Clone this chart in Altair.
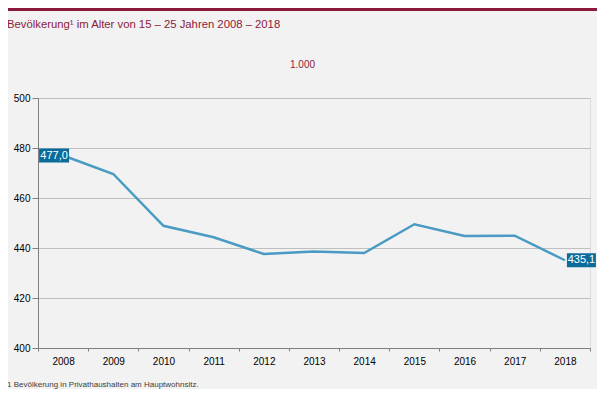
import altair as alt
import pandas as pd

years = ["2008", "2009", "2010", "2011", "2012", "2013", "2014", "2015", "2016", "2017", "2018"]
values = [477.0, 469.6, 448.9, 444.3, 437.6, 438.6, 438.0, 449.5, 444.8, 444.9, 435.1]

label_years = ["2008", "2018"]
label_values = [477.0, 435.1]
label_texts = ["477,0", "435,1"]

y_ticks = [400, 420, 440, 460, 480, 500]

title_text = "Bevölkerung¹ im Alter von 15 – 25 Jahren 2008 – 2018"
unit_text = "1.000"
foot_text = "1 Bevölkerung  in  Privathaushalten  am  Hauptwohnsitz."

LINE = "#4a9bc4"
BOX = "#0b6b9b"
RED = "#8b1a3a"

df = pd.DataFrame({"year": years, "value": values})
lab = pd.DataFrame({"year": label_years, "value": label_values, "text": label_texts})

x = alt.X(
    "year:O",
    sort=years,
    scale=alt.Scale(paddingInner=0, paddingOuter=0),
    axis=alt.Axis(
        title=None, labelAngle=0, tickBand="extent", labelFontSize=10,
        labelColor="#000000", tickColor="#808080", domainColor="#808080",
        tickSize=3, labelPadding=5, grid=False,
    ),
)
y = alt.Y(
    "value:Q",
    scale=alt.Scale(domain=[400, 500], nice=False, zero=False),
    axis=alt.Axis(
        title=None, values=y_ticks, labelFontSize=10, labelColor="#000000",
        tickColor="#808080", domainColor="#808080", tickSize=6, labelPadding=2,
        grid=True, gridColor="#bfbfbf", gridWidth=1,
    ),
)

line = alt.Chart(df).mark_line(color=LINE, strokeWidth=2.5).encode(x=x, y=y)

left = lab[lab["year"] == "2008"]
right = lab[lab["year"] == "2018"]

box_l = alt.Chart(left).mark_rect(width=30, height=14, color=BOX, xOffset=-9).encode(x=x, y=y)
txt_l = alt.Chart(left).mark_text(color="white", fontSize=11, xOffset=-9, baseline="middle").encode(x=x, y=y, text="text:N")
box_r = alt.Chart(right).mark_rect(width=29, height=14, color=BOX, xOffset=16.5).encode(x=x, y=y)
txt_r = alt.Chart(right).mark_text(color="white", fontSize=11, xOffset=16.5, baseline="middle").encode(x=x, y=y, text="text:N")

dummy = pd.DataFrame({"a": [0]})
topbar = alt.Chart(dummy).mark_rule(color=RED, strokeWidth=3).encode(
    x=alt.value(-30), x2=alt.value(559), y=alt.value(-88.5)
)
title = alt.Chart(dummy).mark_text(
    text=title_text, align="left", baseline="alphabetic", fontSize=11.3, color=RED
).encode(x=alt.value(-31), y=alt.value(-70))
unit = alt.Chart(dummy).mark_text(
    text=unit_text, align="center", baseline="alphabetic", fontSize=10, color=RED
).encode(x=alt.value(264.5), y=alt.value(-30))
foot = alt.Chart(dummy).mark_text(
    text=foot_text, align="left", baseline="alphabetic", fontSize=8, color="#404040"
).encode(x=alt.value(-31), y=alt.value(289))

chart = alt.layer(line, box_l, txt_l, box_r, txt_r, topbar, title, unit, foot).properties(
    width=552, height=250,
    autosize=alt.AutoSizeParams(type="none"),
    padding={"left": 30, "top": 90, "right": 7, "bottom": 41},
    background="#f2f2f2",
).configure_view(stroke=None).configure(font="Liberation Sans")

chart.save("out.html", embed_options={"renderer": "svg", "actions": False})
